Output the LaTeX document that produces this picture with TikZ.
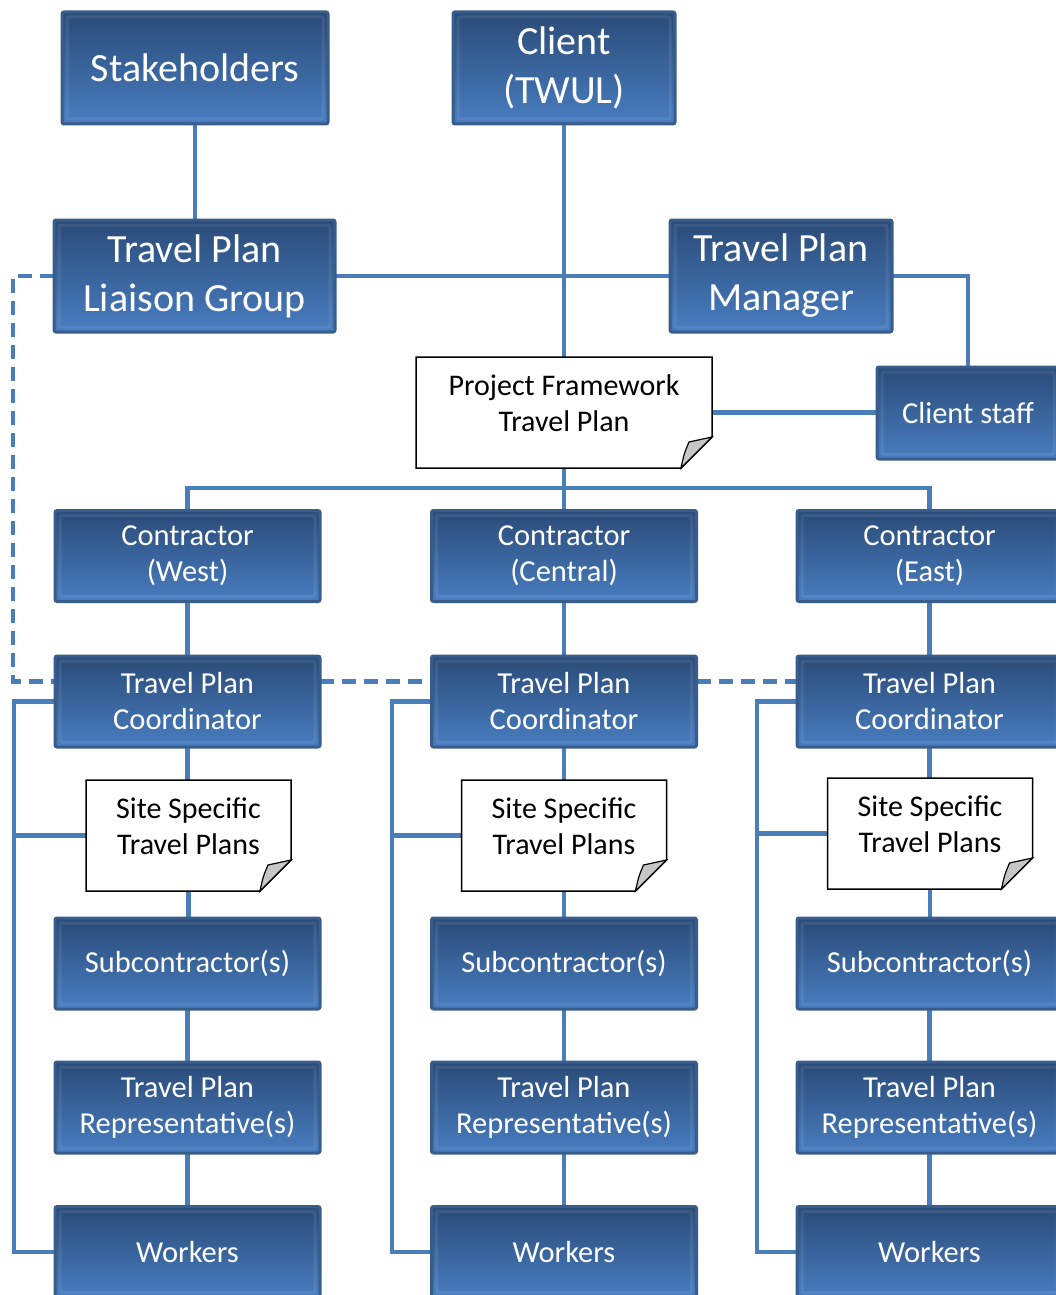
\documentclass[tikz,border=0pt]{standalone}
\usepackage{fontspec}
\setmainfont{Carlito}
\usetikzlibrary{calc}
\pgfdeclarelayer{background}
\pgfsetlayers{background,main}
\definecolor{lineblue}{HTML}{4A7EBB}
\definecolor{boxborder}{HTML}{385D8A}
\definecolor{boxtop}{HTML}{2B4B78}
\definecolor{boxbot}{HTML}{487DC0}
\tikzset{
  bluebox/.style={rectangle, rounded corners=2pt, draw=boxborder, line width=3pt,
    top color=boxtop, bottom color=boxbot, text=white, align=center,
    inner sep=0pt, outer sep=0pt,
    path picture={\draw[white, opacity=0.08, line width=3pt]
      ([shift={(5pt,5pt)}]path picture bounding box.south west) rectangle
      ([shift={(-5pt,-5pt)}]path picture bounding box.north east);}},
  bigbox/.style={bluebox, font=\fontsize{40}{49}\selectfont},
  smallbox/.style={bluebox, font=\fontsize{30.5}{36}\selectfont, minimum width=265pt, minimum height=91pt},
  docbox/.style={rectangle, inner sep=0pt, outer sep=0pt, text=black,
    font=\fontsize{30}{36}\selectfont},
  conn/.style={draw=lineblue, line width=4.5pt},
  dashconn/.style={conn, dash pattern=on 14pt off 8pt},
  docline/.style={draw=black, line width=1.5pt, fill=white},
}
\newcommand{\doctext}[2]{\raisebox{0pt}[0pt][0pt]{\begin{tabular}{@{}c@{}}#1\\#2\end{tabular}}}
\begin{document}
\begin{tikzpicture}[x=1pt, y=-1pt]
\useasboundingbox (0,0) rectangle (1056,1295);
\clip (0,0) rectangle (1056,1295);

% top level
\node[bigbox, minimum width=266pt, minimum height=112pt] (sh) at (195,68) {Stakeholders};
\node[bigbox, minimum width=222pt, minimum height=112pt] (cl) at (564,68) {Client\\(TWUL)};
\node[bigbox, minimum width=281pt, minimum height=112pt] (lg) at (194.5,276) {Travel Plan\\Liaison Group};
\node[bigbox, minimum width=222pt, minimum height=112pt] (tpm) at (781,276) {Travel Plan\\Manager};
\node[docbox, minimum width=296pt, minimum height=111pt] (pf) at (564,412.5) {\doctext{Project Framework}{Travel Plan}};
\node[bluebox, font=\fontsize{30.5}{36}\selectfont, minimum width=182pt, minimum height=92pt] (cs) at (968,413) {Client staff};

% columns
\foreach \c/\x/\lab in {w/187.5/West, c/564/Central, e/929.5/East}{
  \node[smallbox] (c\c) at (\x,556) {Contractor\\(\lab)};
  \node[smallbox] (k\c) at (\x,701.5) {Travel Plan\\Coordinator};
  \node[smallbox] (u\c) at (\x,963.5) {Subcontractor(s)};
  \node[smallbox] (r\c) at (\x,1107.5) {Travel Plan\\Representative(s)};
  \node[smallbox] (w\c) at (\x,1252) {Workers};
}
\node[docbox, minimum width=205pt, minimum height=111pt] (sw) at (188.5,835.5) {\doctext{Site Specific}{Travel Plans}};
\node[docbox, minimum width=205pt, minimum height=111pt] (sc) at (564,835.5) {\doctext{Site Specific}{Travel Plans}};
\node[docbox, minimum width=205pt, minimum height=111pt] (se) at (930,833.5) {\doctext{Site Specific}{Travel Plans}};

\coordinate (bar) at (564,488);
\coordinate (dl) at (13,0);
\coordinate (bw) at (14,0);
\coordinate (bc) at (392,0);
\coordinate (be) at (757,0);
\coordinate (dkwW) at ([yshift=20pt]kw.west);
\coordinate (dkwE) at ([yshift=20pt]kw.east);
\coordinate (dkcW) at ([yshift=20pt]kc.west);
\coordinate (dkcE) at ([yshift=20pt]kc.east);
\coordinate (dkeW) at ([yshift=20pt]ke.west);

\begin{pgfonlayer}{background}
  \draw[conn] (sh.south) -- (sh.south |- lg.north);
  \draw[conn] (cl.south) -- (cl.south |- pf.north);
  \draw[conn] (lg.east) -- (tpm.west);
  \draw[conn] (tpm.east) -| (cs.north);
  \draw[conn] (pf.east) -- (pf.east -| cs.west);
  \draw[conn] (pf.south) -- (cc.north);
  \draw[conn] (cw.north) |- (bar) -| (ce.north);
  \draw[dashconn] (lg.west) -- (lg.west -| dl) -- (dl |- dkwW) -- (dkwW);
  \draw[dashconn] (dkwE) -- (dkcW);
  \draw[dashconn] (dkcE) -- (dkeW);
  \foreach \c in {w,c,e}{
    \draw[conn] (c\c.south) -- (k\c.north);
    \draw[conn] (k\c.south) -- (k\c.south |- s\c.north);
    \draw[conn] (s\c.south) -- (s\c.south |- u\c.north);
    \draw[conn] (u\c.south) -- (r\c.north);
    \draw[conn] (r\c.south) -- (w\c.north);
    \draw[conn] (k\c.west) -- (k\c.west -| b\c) -- (b\c |- w\c.west) -- (w\c.west);
    \draw[conn] (b\c |- s\c.west) -- (s\c.west);
  }
  \foreach \n in {pf,sw,sc,se}{
    \draw[docline] (\n.north west) -- (\n.north east) -- ([yshift=31pt]\n.south east)
      -- ([xshift=-31pt]\n.south east) -- (\n.south west) -- cycle;
    \draw[black, line width=1.2pt, fill=gray!45] ([yshift=31pt]\n.south east)
      -- ([xshift=-31pt]\n.south east)
      .. controls ([xshift=-28pt,yshift=14pt]\n.south east) .. ([xshift=-23pt,yshift=26pt]\n.south east) -- cycle;
  }
\end{pgfonlayer}
\end{tikzpicture}
\end{document}
